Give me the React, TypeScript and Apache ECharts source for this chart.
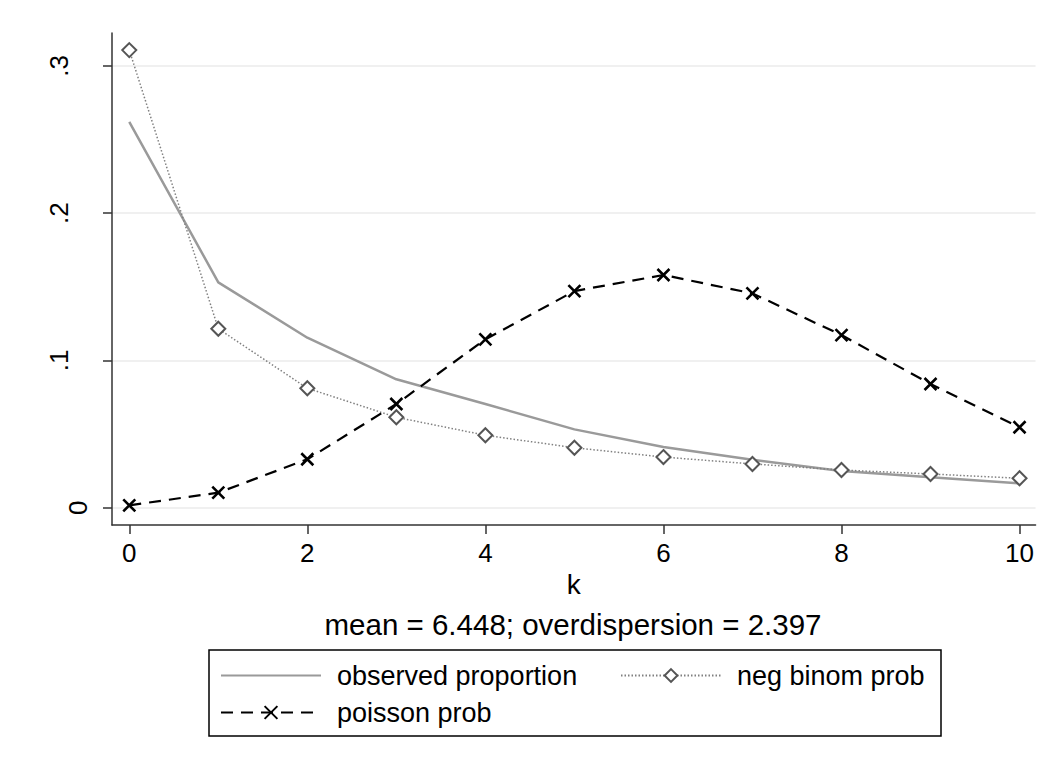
import React, { useEffect, useRef } from 'react';
import * as echarts from 'echarts';

const kValues = [0, 1, 2, 3, 4, 5, 6, 7, 8, 9, 10];
const observedProportion = [0.262, 0.153, 0.1154, 0.0872, 0.0704, 0.0532, 0.0412, 0.0326, 0.0249, 0.0206, 0.0166];
const negBinomProb = [0.3107, 0.1215, 0.0811, 0.0614, 0.0492, 0.0407, 0.0344, 0.0297, 0.0256, 0.0229, 0.02];
const poissonProb = [0.0016, 0.0102, 0.0329, 0.0704, 0.1143, 0.1471, 0.158, 0.1455, 0.1172, 0.084, 0.0546];
const xTicks = [0, 2, 4, 6, 8, 10];
const yTicks = [0, 0.1, 0.2, 0.3];
const yTickLabels = ['0', '.1', '.2', '.3'];
const subtitleText = 'mean = 6.448; overdispersion = 2.397';
const xAxisTitle = 'k';
const seriesNames = ['observed proportion', 'neg binom prob', 'poisson prob'];

const FONT = "'Liberation Sans', Arial, Helvetica, sans-serif";

export default function App() {
  const ref = useRef<HTMLDivElement>(null);
  useEffect(() => {
    document.body.style.margin = '0';
    if (!ref.current) return;
    const chart = echarts.init(ref.current, null, { renderer: 'svg' });
    const toPairs = (vals: number[]) => kValues.map((k, i) => [k, vals[i]]);
    const axisLineStyle = { color: '#333', width: 1.5 };
    const legendCommon = {
      itemWidth: 100,
      itemHeight: 16,
      padding: 0,
      selectedMode: false,
      textStyle: { fontSize: 27, color: '#000', fontFamily: FONT, padding: [0, 0, 0, 11] },
    };
    chart.setOption({
      animation: false,
      backgroundColor: '#fff',
      textStyle: { fontFamily: FONT },
      grid: { left: 112, top: 33, right: 0, bottom: 238, containLabel: false },
      xAxis: {
        type: 'value',
        min: -0.194,
        max: 10.18,
        axisLine: { show: true, onZero: false, lineStyle: axisLineStyle },
        axisTick: { show: true, customValues: xTicks, length: 9, lineStyle: axisLineStyle },
        axisLabel: { customValues: xTicks, fontSize: 26, color: '#000', margin: 15, fontFamily: FONT },
        splitLine: { show: false },
        name: xAxisTitle,
        nameLocation: 'middle',
        nameGap: 43,
        nameTextStyle: { fontSize: 28, color: '#000', fontFamily: FONT },
      },
      yAxis: {
        type: 'value',
        min: -0.01174,
        max: 0.3223,
        axisLine: { show: true, onZero: false, lineStyle: axisLineStyle },
        axisTick: { show: true, customValues: yTicks, length: 9, lineStyle: axisLineStyle },
        axisLabel: {
          customValues: yTicks,
          rotate: 90,
          fontSize: 26,
          color: '#000',
          margin: 21,
          fontFamily: FONT,
          formatter: (v: number) => {
            const idx = yTicks.findIndex((t) => Math.abs(t - v) < 1e-9);
            if (idx < 0) return '';
            return idx === 0 ? '{z|' + yTickLabels[idx] + '}' : '{d|' + yTickLabels[idx] + '}';
          },
          rich: {
            z: { fontSize: 26, color: '#000', fontFamily: FONT },
            d: { fontSize: 26, color: '#000', fontFamily: FONT, padding: [0, 0, 19, 0] },
          },
        },
        splitLine: { show: true, lineStyle: { color: '#ebebeb', width: 1.5 } },
      },
      legend: [
        {
          ...legendCommon,
          data: [seriesNames[0]],
          left: 220,
          top: 662,
          itemStyle: { color: 'transparent', borderColor: 'transparent', borderWidth: 0 },
        },
        { ...legendCommon, data: [seriesNames[1]], left: 620, top: 662 },
        { ...legendCommon, data: [seriesNames[2]], left: 220, top: 699 },
      ],
      graphic: [
        {
          type: 'rect',
          shape: { x: 209, y: 650, width: 732, height: 86 },
          style: { fill: 'none', stroke: '#000', lineWidth: 1.5 },
          silent: true,
        },
        {
          type: 'text',
          x: 573,
          y: 624,
          style: {
            text: subtitleText,
            fontSize: 29.5,
            fontFamily: FONT,
            fill: '#000',
            align: 'center',
            verticalAlign: 'middle',
          },
          silent: true,
        },
      ],
      series: [
        {
          name: seriesNames[0],
          type: 'line',
          data: toPairs(observedProportion),
          symbol: 'none',
          lineStyle: { color: '#9a9a9a', width: 2.5 },
          itemStyle: { color: '#9a9a9a' },
          z: 2,
        },
        {
          name: seriesNames[1],
          type: 'line',
          data: toPairs(negBinomProb),
          symbol: 'emptyDiamond',
          symbolSize: 14,
          lineStyle: { color: '#808080', width: 1.5, type: [1.5, 2] },
          itemStyle: { color: '#555', borderColor: '#555', borderWidth: 2.2 },
          z: 3,
        },
        {
          name: seriesNames[2],
          type: 'line',
          data: toPairs(poissonProb),
          symbol: 'path://M0,0L10,10M10,0L0,10',
          symbolSize: 12,
          lineStyle: { color: '#000', width: 2.2, type: [12, 8] },
          itemStyle: { color: 'none', borderColor: '#000', borderWidth: 2.6 },
          z: 4,
        },
      ],
    });
    return () => chart.dispose();
  }, []);
  return <div ref={ref} style={{ width: 1037, height: 763 }} />;
}
